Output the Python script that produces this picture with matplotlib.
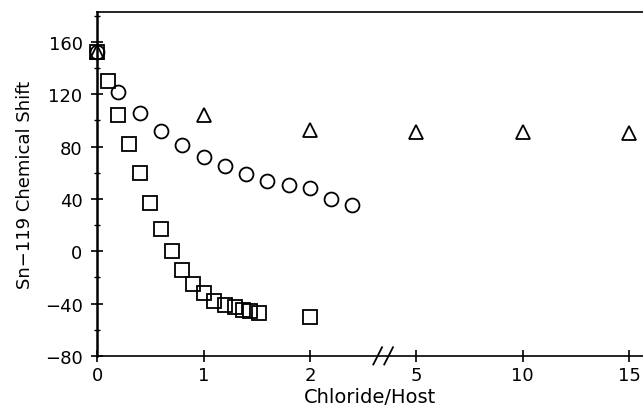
import numpy as np
import matplotlib
matplotlib.use("Agg")
import matplotlib.pyplot as plt
from matplotlib.ticker import FixedLocator, MultipleLocator

# Chloride/Host ratio vs Sn-119 chemical shift, three hosts
sq_x = [0.0, 0.1, 0.2, 0.3, 0.4, 0.5, 0.6, 0.7, 0.8, 0.9, 1.0, 1.1, 1.2, 1.3, 1.37, 1.44, 1.52, 2.0]
sq_y = [152, 130, 104, 82, 60, 37, 17, 0, -14, -25, -32, -38, -41, -43, -45, -46, -47, -50]

ci_x = [0.0, 0.2, 0.4, 0.6, 0.8, 1.0, 1.2, 1.4, 1.6, 1.8, 2.0, 2.2, 2.4]
ci_y = [152, 122, 106, 92, 81, 72, 65, 59, 54, 51, 48, 40, 35]

tr_x = [0.0, 1.0, 2.0, 5.0, 10.0, 15.0]
tr_y = [152, 104, 93, 91, 91, 90]

x_ticks = [0, 1, 2, 5, 10, 15]


# broken x axis: 0..2.7 linear, squeezed gap, then 5..15 compressed
def fwd(x):
    x = np.asarray(x, dtype=float)
    return np.where(x <= 2.7, x,
                    np.where(x >= 5, 3.0 + (x - 5) * 0.2,
                             2.7 + (x - 2.7) * (0.3 / 2.3)))


def inv(u):
    u = np.asarray(u, dtype=float)
    return np.where(u <= 2.7, u,
                    np.where(u >= 3.0, 5 + (u - 3.0) / 0.2,
                             2.7 + (u - 2.7) * (2.3 / 0.3)))


plt.rcParams["font.family"] = ["DejaVu Sans"]

fig = plt.figure(figsize=(6.43, 4.14), dpi=100)
ax = fig.add_axes([0.151, 0.138, 0.849, 0.831])
ax.set_xscale("function", functions=(fwd, inv))

mk = dict(linestyle="none", markerfacecolor="none", markeredgecolor="black",
          markeredgewidth=1.3, clip_on=False)
ax.plot(sq_x, sq_y, marker="s", markersize=10.5, **mk)
ax.plot(ci_x, ci_y, marker="o", markersize=10, **mk)
ax.plot(tr_x, tr_y, marker="^", markersize=9.5, **mk)

ax.set_xlim(0, 15.65)
ax.set_ylim(-80, 183)

ax.xaxis.set_major_locator(FixedLocator(x_ticks))
ax.set_xticklabels([str(t) for t in x_ticks])
ax.xaxis.set_minor_locator(FixedLocator([]))
ax.set_yticks(np.arange(-80, 161, 40))
ax.yaxis.set_minor_locator(MultipleLocator(20))

ax.spines["right"].set_visible(False)
ax.spines["left"].set_linewidth(1.8)
ax.spines["bottom"].set_linewidth(1.2)
ax.spines["top"].set_linewidth(1.2)

ax.tick_params(axis="both", which="major", direction="inout", length=9,
               width=1.2, labelsize=13)
ax.tick_params(axis="y", which="major", pad=6)
ax.tick_params(axis="y", which="minor", direction="inout", length=5, width=1.0)
ax.tick_params(axis="x", which="major", pad=3)

ax.set_xlabel("Chloride/Host", fontsize=14, labelpad=2)
ax.set_ylabel("Sn\u2212119 Chemical Shift", fontsize=13, labelpad=8)

# axis break marks
for xa in (0.514, 0.534):
    ax.plot([xa - 0.008, xa + 0.008], [-0.025, 0.025], color="black",
            linewidth=1.3, transform=ax.transAxes, clip_on=False)

fig.savefig("out.png", dpi=100)
